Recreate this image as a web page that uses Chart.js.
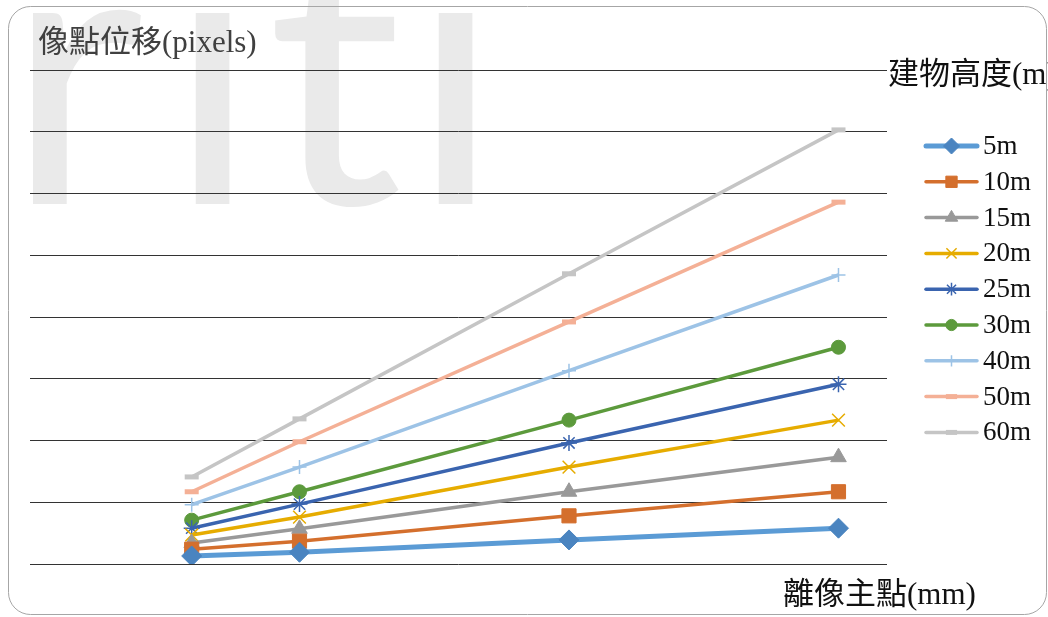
<!DOCTYPE html>
<html>
<head>
<meta charset="utf-8">
<title>像點位移</title>
<script src="https://cdn.jsdelivr.net/npm/chart.js@4"></script>
<style>
  html, body { margin: 0; padding: 0; background: #fff; }
  canvas { display: block; }
</style>
</head>
<body>
<canvas id="chart" width="1048" height="617"></canvas>
<script>
// distance from principal point (mm)
const distances = [30, 50, 100, 150];
const seriesNames = ['5m', '10m', '15m', '20m', '25m', '30m', '40m', '50m', '60m'];

// pixel displacement per building height
const h5 = [0.13, 0.19, 0.39, 0.58];
const h10 = [0.24, 0.37, 0.78, 1.17];
const h15 = [0.34, 0.57, 1.17, 1.73];
const h20 = [0.47, 0.76, 1.57, 2.33];
const h25 = [0.58, 0.97, 1.96, 2.91];
const h30 = [0.71, 1.17, 2.33, 3.51];
const h40 = [0.96, 1.57, 3.13, 4.68];
const h50 = [1.17, 1.98, 3.92, 5.86];
const h60 = [1.41, 2.35, 4.70, 7.03];
const seriesValues = [h5, h10, h15, h20, h25, h30, h40, h50, h60];

// line colour, marker colour, marker style, marker radius, line width, marker border width
const looks = [
    { line: '#5B9BD5', mark: '#4A84C0', style: 'rectRot', r: 10, w: 5, bw: 1 },
    { line: '#D46F2D', mark: '#D46F2D', style: 'rect', r: 10, w: 3.5, bw: 1 },
    { line: '#999999', mark: '#999999', style: 'triangle', r: 9, w: 3.5, bw: 1 },
    { line: '#E6AC00', mark: '#E6AC00', style: 'crossRot', r: 9, w: 3.5, bw: 1.5 },
    { line: '#3A64AF', mark: '#3A64AF', style: 'star', r: 8, w: 3.5, bw: 1.5 },
    { line: '#5C9A3C', mark: '#5C9A3C', style: 'circle', r: 7, w: 3.5, bw: 1 },
    { line: '#9DC3E6', mark: '#9DC3E6', style: 'cross', r: 7, w: 3.5, bw: 1.5 },
    { line: '#F4B096', mark: '#F4B096', style: 'line', r: 7, w: 3.5, bw: 5 },
    { line: '#C5C5C5', mark: '#C5C5C5', style: 'line', r: 7, w: 3.5, bw: 5 }
];

const serif = '"Liberation Serif", "Noto Sans CJK TC", serif';

// background watermark, frame, titles and the legend
const decor = {
    id: 'decor',
    beforeDraw(chart) {
        const ctx = chart.ctx;
        ctx.save();
        ctx.fillStyle = '#fff';
        ctx.fillRect(0, 0, chart.width, chart.height);
        // faint "riti" watermark, each letter put at its left edge
        ctx.fillStyle = '#eaeaea';
        ctx.font = '377px Lato, "Open Sans", sans-serif';
        ctx.textBaseline = 'alphabetic';
        [['r', 30], ['i', 185], ['t', 273], ['i', 428]].forEach(([ch, left]) => {
            const m = ctx.measureText(ch);
            ctx.fillText(ch, left + m.actualBoundingBoxLeft, 204);
        });
        // rounded frame
        ctx.strokeStyle = '#a6a6a6';
        ctx.lineWidth = 1;
        ctx.beginPath();
        ctx.roundRect(8.5, 6.5, 1038, 608, 22);
        ctx.stroke();
        ctx.restore();
    },
    afterDraw(chart) {
        const ctx = chart.ctx;
        ctx.save();
        ctx.textBaseline = 'middle';
        ctx.font = '31px ' + serif;
        ctx.fillStyle = '#404040';
        ctx.fillText('像點位移(pixels)', 38, 44);
        ctx.fillStyle = '#111';
        ctx.fillText('離像主點(mm)', 783, 596);
        ctx.fillText('建物高度(m)', 888, 76);

        // legend: line sample with marker, then label
        ctx.font = '27px ' + serif;
        chart.data.datasets.forEach((ds, i) => {
            const y = 146 + i * 35.8;
            ctx.strokeStyle = ds.borderColor;
            ctx.lineWidth = ds.borderWidth;
            ctx.lineCap = 'round';
            ctx.beginPath();
            ctx.moveTo(926, y);
            ctx.lineTo(977, y);
            ctx.stroke();
            ctx.lineCap = 'butt';
            ctx.fillStyle = ds.pointBackgroundColor;
            ctx.strokeStyle = ds.pointBorderColor;
            ctx.lineWidth = ds.pointBorderWidth;
            Chart.helpers.drawPoint(ctx, {
                pointStyle: ds.pointStyle,
                radius: ds.pointRadius * 0.8,
                rotation: 0,
                borderWidth: ds.pointBorderWidth
            }, 951.5, y);
            ctx.fillStyle = '#111';
            ctx.fillText(ds.label, 983, y + 1);
        });
        ctx.restore();
    }
};

const datasets = seriesNames.map((name, i) => ({
    label: name,
    data: distances.map((d, j) => ({ x: d, y: seriesValues[i][j] })),
    borderColor: looks[i].line,
    borderWidth: looks[i].w,
    pointStyle: looks[i].style,
    pointRadius: looks[i].r,
    pointHoverRadius: looks[i].r,
    pointBackgroundColor: looks[i].mark,
    pointBorderColor: looks[i].mark,
    pointBorderWidth: looks[i].bw,
    tension: 0,
    fill: false
}));

new Chart(document.getElementById('chart').getContext('2d'), {
    type: 'line',
    data: { datasets: datasets },
    options: {
        responsive: false,
        animation: false,
        devicePixelRatio: 1,
        layout: { padding: { left: 30, right: 161, top: 70, bottom: 53 } },
        plugins: {
            legend: { display: false },
            tooltip: { enabled: false }
        },
        scales: {
            x: {
                type: 'linear',
                min: 0,
                max: 159,
                display: false
            },
            y: {
                min: 0,
                max: 8,
                ticks: { display: false, stepSize: 1 },
                border: { display: false },
                grid: { color: '#333', lineWidth: 1, drawTicks: false }
            }
        }
    },
    plugins: [decor]
});
</script>
</body>
</html>
